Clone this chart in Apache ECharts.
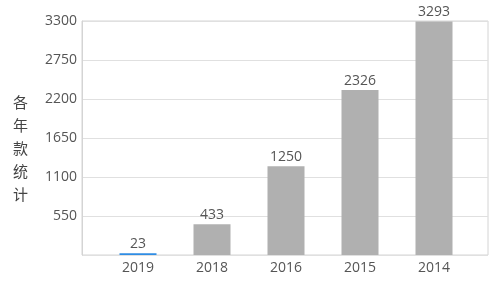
<!DOCTYPE html>
<html><head><meta charset="utf-8">
<script src="https://cdn.jsdelivr.net/npm/echarts@6/dist/echarts.min.js"></script>
<style>html,body{margin:0;padding:0;background:#fff}#c{width:503px;height:295px}</style>
</head><body><div id="c"></div>
<script>
const categories = ['2019', '2018', '2016', '2015', '2014'];
const values = [23, 433, 1250, 2326, 3293];
const yTicks = [0, 550, 1100, 1650, 2200, 2750, 3300];
const axisName = '各年款统计';

const font = '"Open Sans", "Noto Sans CJK SC", sans-serif';
const chart = echarts.init(document.getElementById('c'), null, {renderer: 'canvas'});
chart.setOption({
  animation: false,
  textStyle: {fontFamily: font},
  grid: [
    {left: 82, right: 15, top: 21, bottom: 40, show: true, borderColor: '#d4d4d4', borderWidth: 1},
    {left: 101, right: 32, top: 21, bottom: 40}
  ],
  xAxis: [
    {type: 'category', gridIndex: 0, data: categories, show: false},
    {type: 'category', gridIndex: 1, data: categories,
      axisLine: {show: false}, axisTick: {show: false},
      axisLabel: {color: '#555', fontSize: 14, fontFamily: font, margin: 6}}
  ],
  yAxis: [
    {type: 'value', gridIndex: 0, min: yTicks[0], max: yTicks[yTicks.length - 1], interval: 550,
      axisLine: {show: true, lineStyle: {color: '#d4d4d4'}}, axisTick: {show: false},
      splitLine: {lineStyle: {color: '#e0e0e0'}},
      axisLabel: {color: '#555', fontSize: 14, fontFamily: font, margin: 5,
        formatter: v => v === 0 ? '' : String(v)},
      name: '\n' + axisName.split('').join('\n'), nameLocation: 'middle', nameRotate: 0, nameGap: 54,
      nameTextStyle: {color: '#444', fontSize: 15, lineHeight: 23, fontFamily: font}},
    {type: 'value', gridIndex: 1, min: yTicks[0], max: yTicks[yTicks.length - 1], show: false}
  ],
  series: [{
    type: 'bar', xAxisIndex: 1, yAxisIndex: 1,
    data: values.map((v, i) => i === 0 ? {value: v, itemStyle: {color: '#2f8de4'}} : v),
    barWidth: '50%',
    itemStyle: {color: '#b0b0b0'},
    label: {show: true, position: 'top', color: '#555', fontSize: 14, fontFamily: font, distance: 2}
  }]
});
</script></body></html>
